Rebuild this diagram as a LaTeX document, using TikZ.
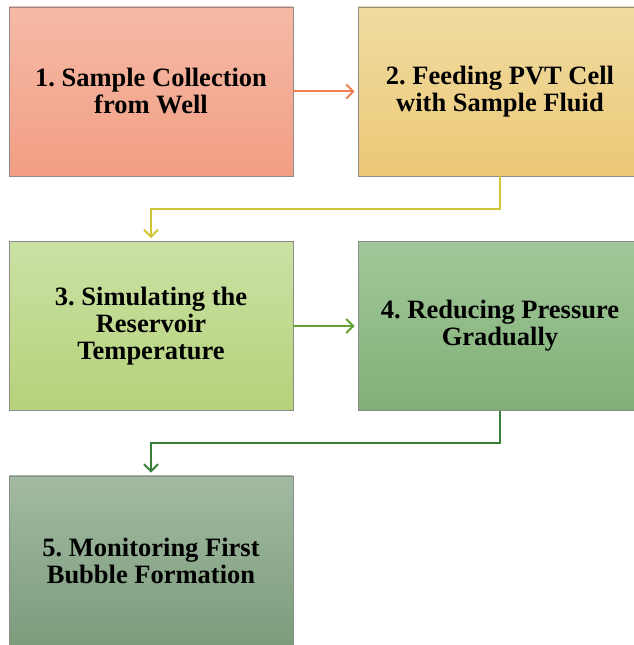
\documentclass[tikz,border=0pt]{standalone}
\usepackage{fontspec}
\setmainfont{Liberation Serif}
\usetikzlibrary{arrows.meta}
\frenchspacing
\definecolor{salmonT}{RGB}{245,186,166}
\definecolor{salmonB}{RGB}{242,158,132}
\definecolor{sandT}{RGB}{240,220,162}
\definecolor{sandB}{RGB}{236,200,118}
\definecolor{limeT}{RGB}{202,225,164}
\definecolor{limeB}{RGB}{182,210,122}
\definecolor{sageT}{RGB}{162,199,154}
\definecolor{sageB}{RGB}{128,176,118}
\definecolor{mossT}{RGB}{162,186,162}
\definecolor{mossB}{RGB}{124,156,124}
\definecolor{arrA}{RGB}{238,128,82}
\definecolor{arrB}{RGB}{208,198,52}
\definecolor{arrC}{RGB}{100,160,52}
\definecolor{arrD}{RGB}{56,128,58}
\begin{document}
\begin{tikzpicture}[x=1pt,y=1pt,
    stage/.style={draw=black!45,line width=0.8pt,minimum width=284pt,minimum height=169pt,
        align=center,font=\fontsize{26.5}{27}\selectfont\bfseries,inner sep=0pt},
    link/.style={line width=2pt,-{Straight Barb[length=7pt,width=14pt,line width=2pt]}}]
\useasboundingbox (0,0) rectangle (634,645);
% boxes
\node[stage,top color=salmonT,bottom color=salmonB] (sample) at (151,553.5) {1. Sample Collection\\from Well};
\node[stage,top color=sandT,bottom color=sandB] (feed) at (500,553.5) {2. Feeding PVT Cell\\with Sample Fluid};
\node[stage,top color=limeT,bottom color=limeB] (temp) at (151,319) {3. Simulating the\\Reservoir\\Temperature};
\node[stage,top color=sageT,bottom color=sageB] (press) at (500,319) {4. Reducing Pressure\\Gradually};
\node[stage,top color=mossT,bottom color=mossB] (bubble) at (151,84.5) {5. Monitoring First\\Bubble Formation};
% arrows
\draw[link,arrA,shorten >=3pt] (sample.east) -- (feed.west);
\draw[link,arrB,shorten >=3pt] (feed.south) -- ++(0,-32.5) -| (temp.north);
\draw[link,arrC,shorten >=3pt] (temp.east) -- (press.west);
\draw[link,arrD,shorten >=3pt] (press.south) -- ++(0,-32.5) -| (bubble.north);
\end{tikzpicture}
\end{document}
